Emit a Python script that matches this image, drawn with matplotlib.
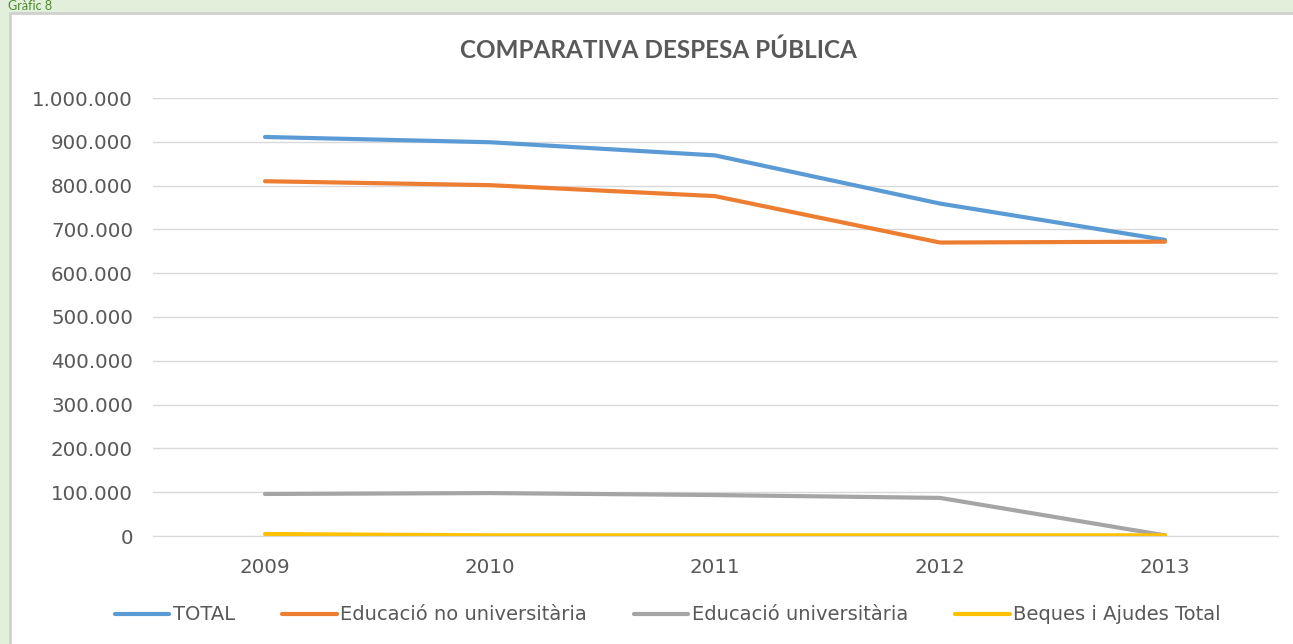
import numpy as np
import matplotlib.pyplot as plt
from matplotlib.patches import Rectangle
from matplotlib.ticker import FuncFormatter

# Dades del gràfic
anys = ['2009', '2010', '2011', '2012', '2013']
total = [911000, 899000, 869000, 759000, 676000]
edu_no_univ = [810000, 801000, 776000, 670000, 672000]
edu_univ = [96000, 98000, 93500, 87000, 1500]
beques = [4500, 1500, 1500, 1500, 1500]

series = [
    ('TOTAL', total, '#5B9BD5'),
    ('Educació no universitària', edu_no_univ, '#ED7D31'),
    ('Educació universitària', edu_univ, '#A5A5A5'),
    ('Beques i Ajudes Total', beques, '#FFC000'),
]

plt.rcParams['font.family'] = ['DejaVu Sans']

fig = plt.figure(figsize=(12.93, 6.44), dpi=100)
fig.patch.set_facecolor('#E2EFDA')

# marc blanc del gràfic
fig.patches.append(Rectangle((10 / 1293, -0.05), 1.1, (644 - 13) / 644 + 0.05,
                             transform=fig.transFigure, facecolor='white',
                             edgecolor='#D0D0D0', linewidth=2, zorder=-5))
fig.text(8 / 1293, 1.0, 'Gràfic 8', color='#4E8A2E', fontsize=9,
         ha='left', va='top', family='Lato', zorder=5)

ax = fig.add_axes([152.5 / 1293, (644 - 536) / 644, 1125 / 1293, 438 / 644])
ax.set_facecolor('white')

x = np.arange(len(anys))
for nom, vals, color in series:
    ax.plot(x, vals, color=color, linewidth=3.0, solid_capstyle='round', label=nom)

ax.set_xlim(-0.5, len(anys) - 0.5)
ax.set_ylim(0, 1000000)
ax.set_yticks(np.arange(0, 1000001, 100000))
ax.yaxis.set_major_formatter(FuncFormatter(lambda v, p: f'{int(v):,}'.replace(',', '.')))
ax.set_xticks(x)
ax.set_xticklabels(anys)
ax.grid(axis='y', color='#D9D9D9', linewidth=1)
ax.set_axisbelow(True)
for s in ['top', 'right', 'left']:
    ax.spines[s].set_visible(False)
ax.spines['bottom'].set_color('#D9D9D9')
ax.tick_params(axis='both', length=0, colors='#595959', labelsize=14.3)
ax.tick_params(axis='y', pad=14)
ax.tick_params(axis='x', pad=16)

fig.text(658 / 1293, 1 - 50 / 644, 'COMPARATIVA DESPESA PÚBLICA', ha='center', va='center',
         fontsize=17.5, color='#595959', family='Lato', fontweight='bold')

fig.legend(loc='center', bbox_to_anchor=(668 / 1293, 1 - 615 / 644), ncol=4,
           frameon=False, fontsize=14, labelcolor='#595959', handlelength=2.8,
           handletextpad=0.2, columnspacing=2.4)

fig.savefig('out.png', dpi=100, facecolor=fig.get_facecolor())
